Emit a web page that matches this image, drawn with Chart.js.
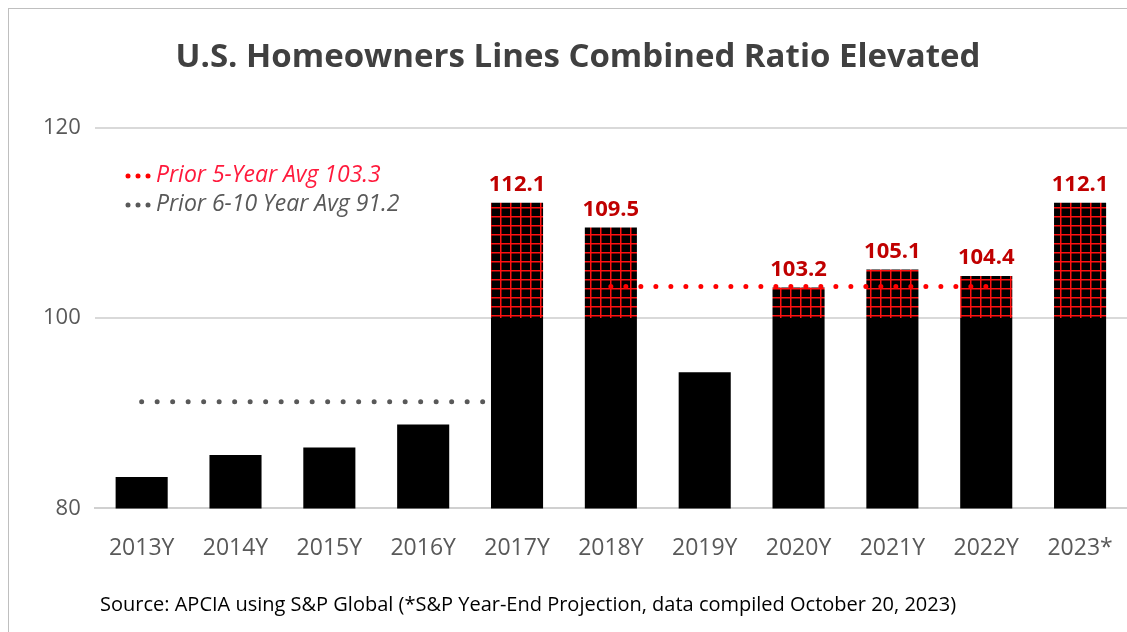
<!DOCTYPE html>
<html>
<head>
<meta charset="utf-8">
<script src="https://cdn.jsdelivr.net/npm/chart.js@4/dist/chart.umd.min.js"></script>
<style>
  html, body { margin: 0; padding: 0; background: #fff; }
  #wrap { position: relative; width: 1127px; height: 632px; }
  #frame { position: absolute; left: 8px; top: 8px; right: 0; bottom: 0; border-left: 1px solid #bfbfbf; border-top: 1px solid #bfbfbf; pointer-events: none; }
  #source { position: absolute; left: 100px; top: 590px; font: 20px 'Open Sans', sans-serif; color: #000; white-space: nowrap; }
</style>
</head>
<body>
<div id="wrap">
  <canvas id="myChart" width="1127" height="632"></canvas>
  <div id="frame"></div>
  <div id="source">Source: APCIA using S&amp;P Global (*S&amp;P Year-End Projection, data compiled October 20, 2023)</div>
</div>
<script>
// values
const years = ['2013Y', '2014Y', '2015Y', '2016Y', '2017Y', '2018Y', '2019Y', '2020Y', '2021Y', '2022Y', '2023*'];
const combinedRatio = [83.3, 85.6, 86.4, 88.8, 112.1, 109.5, 94.3, 103.2, 105.1, 104.4, 112.1];
const prior5Avg = [null, null, null, null, null, 103.3, 103.3, 103.3, 103.3, 103.3, null];
const prior6to10Avg = [91.2, 91.2, 91.2, 91.2, 91.2, null, null, null, null, null, null];
const yTicks = [80, 100, 120];

const FONT = "'Open Sans', sans-serif";

// black cell with red grid lines for the part above 100
function gridPattern() {
  const c = document.createElement('canvas');
  c.width = 10; c.height = 9;
  const g = c.getContext('2d');
  g.fillStyle = '#000';
  g.fillRect(0, 0, 10, 9);
  g.fillStyle = '#ff1010';
  g.fillRect(0, 0, 10, 1.5);
  g.fillRect(0, 0, 1.5, 9);
  return g.createPattern(c, 'repeat');
}

const baseVals = combinedRatio.map(v => Math.min(v, 100));
const overVals = combinedRatio.map(v => Math.max(v - 100, 0));

// red labels over bars that go past 100, plus the little legend
const extras = {
  id: 'extras',
  afterDatasetsDraw(chart) {
    const ctx = chart.ctx;
    const meta = chart.getDatasetMeta(2);
    ctx.save();
    ctx.font = "bold 22px " + FONT;
    ctx.fillStyle = '#c00000';
    ctx.textAlign = 'center';
    ctx.textBaseline = 'bottom';
    combinedRatio.forEach((v, i) => {
      if (v > 100) {
        const bar = meta.data[i];
        ctx.fillText(v.toFixed(1), bar.x, bar.y - 7);
      }
    });

    const items = [
      {text: 'Prior 5-Year Avg 103.3', dot: '#ff0000', color: '#ff1a3c'},
      {text: 'Prior 6-10 Year Avg 91.2', dot: '#595959', color: '#595959'}
    ];
    ctx.textAlign = 'left';
    ctx.textBaseline = 'middle';
    ctx.font = "italic 23px " + FONT;
    items.forEach((it, k) => {
      const y = 175 + k * 29;
      ctx.fillStyle = it.dot;
      for (let d = 0; d < 3; d++) {
        ctx.beginPath();
        ctx.arc(128 + d * 10, y + 1, 2.5, 0, Math.PI * 2);
        ctx.fill();
      }
      ctx.fillStyle = it.color;
      ctx.fillText(it.text, 156, y);
    });
    ctx.restore();
  }
};

new Chart(document.getElementById('myChart').getContext('2d'), {
  type: 'bar',
  data: {
    labels: years,
    datasets: [
      {
        type: 'line',
        label: 'Prior 6-10 Year Avg',
        data: prior6to10Avg,
        stack: 'avg10',
        borderColor: '#595959',
        borderWidth: 5,
        borderDash: [0, 15.5],
        borderCapStyle: 'round',
        pointRadius: 0,
        order: 10
      },
      {
        label: 'Combined Ratio',
        data: baseVals,
        stack: 'bars',
        backgroundColor: '#000',
        order: 5
      },
      {
        label: 'Above 100',
        data: overVals,
        stack: 'bars',
        backgroundColor: gridPattern(),
        order: 5
      },
      {
        type: 'line',
        label: 'Prior 5-Year Avg',
        data: prior5Avg,
        stack: 'avg5',
        borderColor: '#ff0000',
        borderWidth: 5,
        borderDash: [0, 15],
        borderCapStyle: 'round',
        pointRadius: 0,
        order: 1
      }
    ]
  },
  options: {
    responsive: false,
    devicePixelRatio: 1,
    animation: false,
    categoryPercentage: 1,
    barPercentage: 0.555,
    layout: {padding: {left: 29, right: 0, top: 0, bottom: 44}},
    plugins: {
      legend: {display: false},
      tooltip: {enabled: false},
      title: {
        display: true,
        text: 'U.S. Homeowners Lines Combined Ratio Elevated',
        color: '#404040',
        font: {family: FONT, size: 33, weight: 'bold'},
        padding: {top: 38, bottom: 50}
      }
    },
    scales: {
      x: {
        stacked: true,
        afterFit: s => { s.paddingRight = 0; s.paddingLeft = 0; },
        grid: {display: false, drawTicks: false},
        border: {display: true, color: '#d0d0d0', width: 2},
        ticks: {color: '#595959', font: {family: FONT, size: 23}, padding: 26, maxRotation: 0, autoSkip: false}
      },
      y: {
        stacked: true,
        min: 80,
        max: 120,
        afterBuildTicks: axis => { axis.ticks = yTicks.map(v => ({value: v})); },
        grid: {color: '#d9d9d9', lineWidth: 2, drawTicks: false},
        border: {display: false},
        ticks: {color: '#595959', font: {family: FONT, size: 22}, padding: 14}
      }
    }
  },
  plugins: [extras]
});
</script>
</body>
</html>
